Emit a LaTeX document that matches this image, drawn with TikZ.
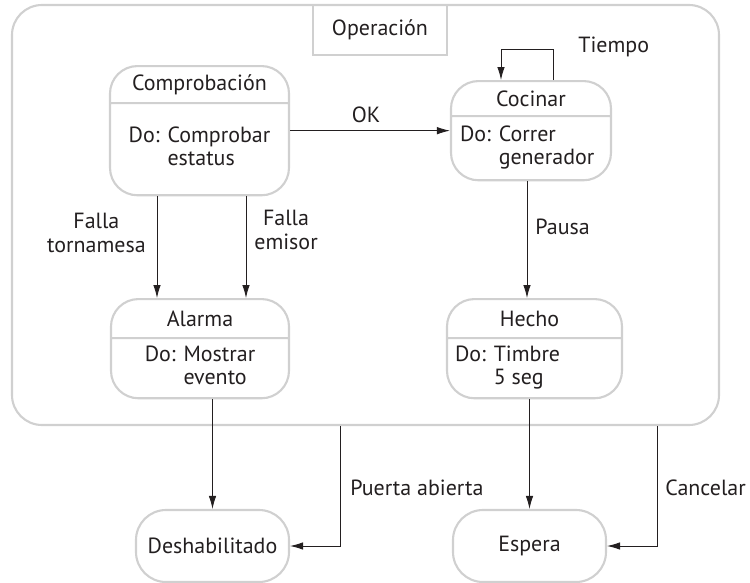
\documentclass[tikz,border=0pt]{standalone}
\usepackage{fontspec}
\setmainfont{PT Sans}
\usepackage{tikz}
\usetikzlibrary{shapes.multipart, arrows.meta, positioning, calc}
\definecolor{cLine}{RGB}{208,208,208}
\definecolor{cInk}{RGB}{35,31,32}
\newcommand{\stpart}[3]{\parbox[c][#2][c]{#1}{#3}}
\newcommand{\dobody}[2]{\begin{tabular}{@{}l@{ }l@{}}Do: & #1\\ & #2\end{tabular}}
\tikzset{
  basebox/.style={rectangle, draw=cLine, line width=1.2pt, text=cInk,
                  align=center, font=\fontsize{12.5}{13.5}\selectfont},
  outerbox/.style={basebox, rounded corners=0.6cm},
  titlebox/.style={basebox, inner sep=0pt},
  statenode/.style={basebox, rectangle split, rectangle split parts=2,
                    rounded corners=0.55cm, inner sep=0pt},
  endnode/.style={basebox, rounded corners=0.6cm, minimum width=3.06cm,
                  minimum height=1.44cm},
  arrow/.style={-{Latex[length=2.6mm, width=1.5mm]}, line width=0.5pt, color=cInk},
  evlabel/.style={align=center, inner sep=0pt, text=cInk,
                  font=\fontsize{12.5}{13.5}\selectfont}
}

\begin{document}
\begin{tikzpicture}
  \useasboundingbox (0,0) rectangle (15,-11.66);

  \node[outerbox, minimum width=14.14cm, minimum height=8.40cm] (oper) at (7.31,-4.30) {};
  \node[titlebox, minimum width=2.68cm, minimum height=1.00cm] (optitle) at (7.60,-0.60) {Operación};

  \node[statenode, anchor=north] (comp) at (3.99,-1.30)
    {\stpart{3.58cm}{0.70cm}{\centering Comprobación}
     \nodepart{two}\stpart{3.58cm}{1.80cm}{\centering\dobody{Comprobar}{estatus}}};
  \node[statenode, anchor=north] (coc) at (10.62,-1.60)
    {\stpart{3.20cm}{0.66cm}{\centering Cocinar}
     \nodepart{two}\stpart{3.20cm}{1.24cm}{\hspace*{0.18cm}\dobody{Correr}{generador}}};
  \node[statenode, anchor=north] (alarm) at (4.00,-5.96)
    {\stpart{3.56cm}{0.74cm}{\centering Alarma}
     \nodepart{two}\stpart{3.56cm}{1.16cm}{\centering\dobody{Mostrar}{evento}}};
  \node[statenode, anchor=north] (hecho) at (10.69,-5.96)
    {\stpart{3.50cm}{0.74cm}{\centering\hspace*{-0.2cm}Hecho}
     \nodepart{two}\stpart{3.50cm}{1.16cm}{\hspace*{0.16cm}\dobody{Timbre}{5 seg}}};

  \node[endnode] (desh) at (4.25,-10.92) {Deshabilitado};
  \node[endnode] (esp) at (10.59,-10.92) {Espera};

  \draw[arrow] (comp.east) -- (comp.east -| coc.west);
  \draw[arrow] ([xshift=0.44cm]coc.north) -- ++(0,0.62) -| ([xshift=-0.60cm]coc.north);
  \draw[arrow] ([xshift=-0.85cm]comp.south) -- ([xshift=-0.85cm]comp.south |- alarm.north);
  \draw[arrow] ([xshift=0.93cm]comp.south) -- ([xshift=0.93cm]comp.south |- alarm.north);
  \draw[arrow] ([xshift=-0.08cm]coc.south) -- ([xshift=-0.08cm]coc.south |- hecho.north);
  \draw[arrow] (alarm.south -| desh.north) -- (desh.north);
  \draw[arrow] (hecho.south -| esp.north) -- (esp.north);
  \draw[arrow] ([xshift=-0.51cm]oper.south) |- (desh.east);
  \draw[arrow] ([xshift=5.83cm]oper.south) |- (esp.east);

  \node[evlabel] (lok) at (7.32,-2.30) {OK};
  \node[evlabel, anchor=west] (ltime) at (11.56,-0.94) {Tiempo};
  \node[evlabel, anchor=east] (lturn) at (2.92,-4.66) {Falla\\tornamesa};
  \node[evlabel, anchor=west] (lemit) at (5.08,-4.60) {Falla\\emisor};
  \node[evlabel, anchor=west] (lpause) at (10.70,-4.54) {Pausa};
  \node[evlabel, anchor=west] (ldoor) at (7.00,-9.76) {Puerta abierta};
  \node[evlabel, anchor=west] (lcancel) at (13.30,-9.76) {Cancelar};
\end{tikzpicture}
\end{document}
